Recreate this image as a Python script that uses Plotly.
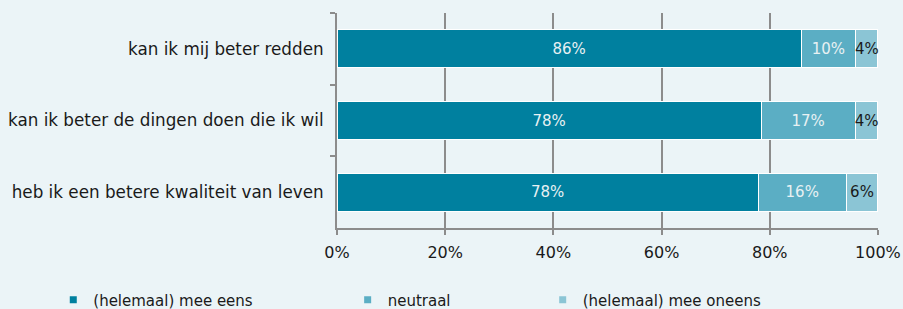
import plotly.graph_objects as go

categories = [
    "kan ik mij beter redden",
    "kan ik beter de dingen doen die ik wil",
    "heb ik een betere kwaliteit van leven",
]
series_names = ["(helemaal) mee eens", "neutraal", "(helemaal) mee oneens"]
eens = [85.8, 78.4, 77.9]
neutraal = [10.1, 17.4, 16.2]
oneens = [4.1, 4.2, 5.9]
x_ticks = [0, 20, 40, 60, 80, 100]
x_tick_labels = ["0%", "20%", "40%", "60%", "80%", "100%"]

colors = ["#00809F", "#5BAEC4", "#8BC5D5"]
text_colors = ["#E8F1F3", "#E8F1F3", "#1A1A1A"]
series_values = [eens, neutraal, oneens]

BG = "#EBF4F7"
GRID = "#8C8C8C"
FONT = "DejaVu Sans"

fig = go.Figure()
legend_ids = ["legend", "legend2", "legend3"]
for name, vals, col, tcol, lid in zip(series_names, series_values, colors, text_colors, legend_ids):
    fig.add_trace(go.Bar(
        y=categories, x=vals, name=name, orientation="h",
        marker=dict(color=col, line=dict(color="white", width=1)),
        texttemplate="%{x:.0f}%", textposition="inside", insidetextanchor="middle",
        textangle=0, constraintext="none",
        textfont=dict(color=tcol, size=15, family=FONT),
        cliponaxis=False, showlegend=False,
    ))
    # legend entry with small square symbol
    fig.add_trace(go.Scatter(
        x=[None], y=[None], mode="markers", name=name,
        marker=dict(symbol="square", size=7, color=col),
        legend=lid, showlegend=True,
    ))

legend_common = dict(
    orientation="h", xref="container", yref="container", yanchor="middle",
    xanchor="left", bgcolor="rgba(0,0,0,0)", borderwidth=0,
    font=dict(family=FONT, size=15, color="#1A1A1A"),
)

fig.update_layout(
    width=903, height=309,
    margin=dict(l=337, r=25, t=13, b=81, autoexpand=False),
    paper_bgcolor=BG, plot_bgcolor=BG,
    barmode="stack", bargap=0.47,
    font=dict(family=FONT, size=16, color="#1A1A1A"),
    legend=dict(x=0.059, y=0.029, **legend_common),
    legend2=dict(x=0.385, y=0.029, **legend_common),
    legend3=dict(x=0.601, y=0.029, **legend_common),
    xaxis=dict(
        range=[0, 100.01], tickmode="array", tickvals=x_ticks, ticktext=x_tick_labels,
        showgrid=True, gridcolor=GRID, gridwidth=2,
        showline=True, linecolor=GRID, linewidth=2,
        ticks="outside", ticklen=5, tickcolor=GRID, tickwidth=2,
        tickfont=dict(family=FONT, size=16, color="#1A1A1A"),
        ticklabelstandoff=4, automargin=False,
        zeroline=False, fixedrange=True,
    ),
    yaxis=dict(
        autorange="reversed", type="category",
        showline=True, linecolor=GRID, linewidth=2,
        ticks="outside", ticklen=5, tickcolor=GRID, tickwidth=2,
        tickson="boundaries", showgrid=False,
        tickfont=dict(family=FONT, size=16.8, color="#1A1A1A"),
        ticklabelstandoff=8, automargin=False, fixedrange=True,
    ),
)

fig.write_html(
    "out.html",
    config={"displayModeBar": False},
    post_script="document.body.style.margin='0';document.body.style.background='%s';" % BG,
)
